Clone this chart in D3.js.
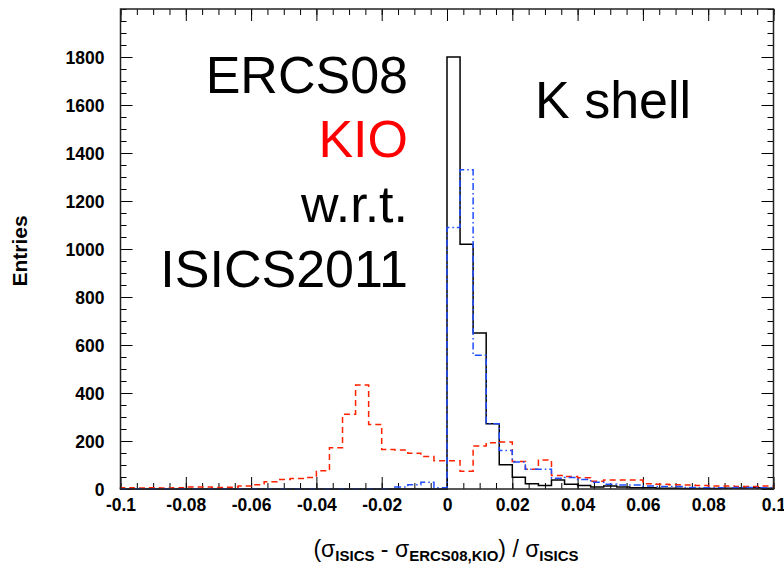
<!DOCTYPE html>
<html>
<head>
<meta charset="utf-8">
<script src="https://cdn.jsdelivr.net/npm/d3@7"></script>
<style>
  html, body { margin: 0; padding: 0; background: #fff; }
  svg { display: block; }
  text { font-family: "Liberation Sans", Arial, Helvetica, sans-serif; }
</style>
</head>
<body>
<svg id="chart" width="784" height="565"></svg>
<script>
// ---- data ----
const binLow = -0.1;
const binWidth = 0.004;
// ERCS08 (black, solid)
const ercs08 = [0,0,0,0,0,0,0,0,0,0, 0,0,0,0,0,0,0,0,0,0, 0,0,0,0,0,
  1800,1020,650,272,101,49,22,15,37,20, 15,8,13,8,5,5,3,3,2,2, 2,3,4,5,3];
// KIO (red, dashed)
const kio = [5,4,5,4,5,8,8,6,7,12, 18,30,40,44,48,76,172,311,433,269, 165,163,149,135,118,
  118,74,179,193,196,115,82,121,56,52, 47,32,38,38,38,22,20,18,17,15, 12,12,10,10,12];
// third comparison (blue, dash-dot)
const other = [1,1,1,1,1,1,1,1,1,1, 1,1,1,1,1,1,1,1,1,1, 1,8,18,28,5,
  1090,1330,557,272,160,112,82,82,45,48, 40,28,20,17,17,12,10,10,6,5, 5,4,6,6,5];
const xTicks = [-0.1,-0.08,-0.06,-0.04,-0.02,0,0.02,0.04,0.06,0.08,0.1];
const yTicks = [0,200,400,600,800,1000,1200,1400,1600,1800];
const xDomain = [-0.1, 0.1];
const yDomain = [0, 2000];

// ---- chart ----
const svg = d3.select("#chart");
const L = 120.5, R = 773.5, T = 9, B = 489;
const x = d3.scaleLinear().domain(xDomain).range([L, R]);
const y = d3.scaleLinear().domain(yDomain).range([B, T]);

const xMinor = d3.range(-0.1, 0.1001, 0.005).map(v => +v.toFixed(3));
const yMinor = d3.range(0, 2001, 50);
const fmtX = d => d === 0 ? "0" : String(+d.toFixed(2));

function styleAxis(g) {
  g.select(".domain").remove();
  g.selectAll(".tick line").attr("stroke", "#000").attr("stroke-width", 1);
}

// minor ticks
svg.append("g").attr("transform", `translate(0,${B})`)
  .call(d3.axisBottom(x).tickValues(xMinor).tickSize(-6).tickFormat("")).call(styleAxis);
svg.append("g").attr("transform", `translate(0,${T})`)
  .call(d3.axisTop(x).tickValues(xMinor).tickSize(-6).tickFormat("")).call(styleAxis);
svg.append("g").attr("transform", `translate(${L},0)`)
  .call(d3.axisLeft(y).tickValues(yMinor).tickSize(-6).tickFormat("")).call(styleAxis);
svg.append("g").attr("transform", `translate(${R},0)`)
  .call(d3.axisRight(y).tickValues(yMinor).tickSize(-6).tickFormat("")).call(styleAxis);

// major ticks
const gx = svg.append("g").attr("transform", `translate(0,${B})`)
  .call(d3.axisBottom(x).tickValues(xTicks).tickSize(-12).tickPadding(10).tickFormat(fmtX)).call(styleAxis);
svg.append("g").attr("transform", `translate(0,${T})`)
  .call(d3.axisTop(x).tickValues(xTicks).tickSize(-12).tickFormat("")).call(styleAxis);
const gy = svg.append("g").attr("transform", `translate(${L},0)`)
  .call(d3.axisLeft(y).tickValues(yTicks).tickSize(-12).tickPadding(16).tickFormat(d3.format("d"))).call(styleAxis);
svg.append("g").attr("transform", `translate(${R},0)`)
  .call(d3.axisRight(y).tickValues(yTicks).tickSize(-12).tickFormat("")).call(styleAxis);

[gx, gy].forEach(g => g.selectAll("text")
  .attr("font-family", "'Liberation Sans', Arial, sans-serif")
  .attr("font-size", 17.5).attr("font-weight", "bold").attr("fill", "#000"));
gy.selectAll("text").attr("dy", "0.36em");

// histograms
function stepPoints(vals) {
  const pts = [[binLow, 0]];
  vals.forEach((v, i) => {
    const x0 = binLow + i * binWidth, x1 = binLow + (i + 1) * binWidth;
    pts.push([x0, v], [x1, v]);
  });
  pts.push([binLow + vals.length * binWidth, 0]);
  return pts;
}
const line = d3.line().x(d => x(d[0])).y(d => y(d[1]));

const plot = svg.append("g");
plot.append("path").attr("d", line(stepPoints(ercs08)))
  .attr("fill", "none").attr("stroke", "#000").attr("stroke-width", 1.5);
plot.append("path").attr("d", line(stepPoints(kio)))
  .attr("fill", "none").attr("stroke", "#ff2200").attr("stroke-width", 1.5)
  .attr("stroke-dasharray", "6,4");
plot.append("path").attr("d", line(stepPoints(other)))
  .attr("fill", "none").attr("stroke", "#1f4dff").attr("stroke-width", 1.5)
  .attr("stroke-dasharray", "7,3,1.5,3");

// frame
svg.append("rect").attr("x", L).attr("y", T).attr("width", R - L).attr("height", B - T)
  .attr("fill", "none").attr("stroke", "#222").attr("stroke-width", 1.5);

// big labels
const big = [
  { t: "ERCS08", c: "#000", yb: 93 },
  { t: "KIO", c: "#ff0000", yb: 157 },
  { t: "w.r.t.", c: "#000", yb: 222 },
  { t: "ISICS2011", c: "#000", yb: 287 }
];
big.forEach(b => svg.append("text").attr("x", 408).attr("y", b.yb)
  .attr("text-anchor", "end").attr("font-size", 52).attr("fill", b.c).text(b.t));
svg.append("text").attr("x", 535).attr("y", 118).attr("font-size", 52).attr("fill", "#000").text("K shell");

// axis titles
svg.append("text").attr("transform", "translate(27,251) rotate(-90)")
  .attr("text-anchor", "middle").attr("font-size", 21).attr("font-weight", "bold").text("Entries");

const xt = svg.append("text").attr("x", 446).attr("y", 557).attr("text-anchor", "middle")
  .attr("font-size", 23);
const parts = [
  ["(σ", false], ["ISICS", true], [" - σ", false], ["ERCS08,KIO", true],
  [") / σ", false], ["ISICS", true]
];
parts.forEach(([s, sub], i) => {
  const prevSub = i > 0 && parts[i - 1][1];
  const ts = xt.append("tspan").text(s).attr("dy", sub ? 4 : (prevSub ? -4 : 0));
  if (sub) ts.attr("font-size", 15).attr("font-weight", "bold");
});
</script>
</body>
</html>
